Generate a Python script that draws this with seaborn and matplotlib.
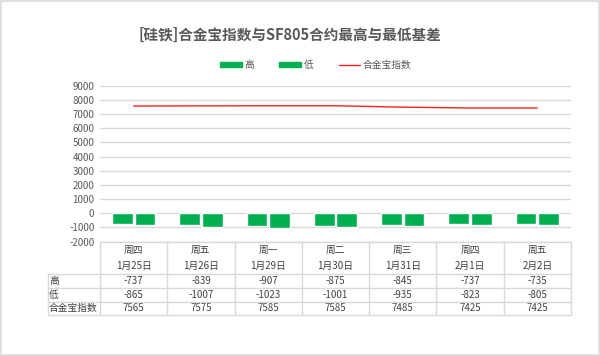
import numpy as np
import pandas as pd
import matplotlib
matplotlib.use("Agg")
import matplotlib.pyplot as plt
import seaborn as sns
from matplotlib.patches import Patch, Rectangle
from matplotlib.lines import Line2D
from matplotlib.transforms import blended_transform_factory

weekdays = ["周四", "周五", "周一", "周二", "周三", "周四", "周五"]
dates = ["1月25日", "1月26日", "1月29日", "1月30日", "1月31日", "2月1日", "2月2日"]
high = [-737, -839, -907, -875, -845, -737, -735]
low = [-865, -1007, -1023, -1001, -935, -823, -805]
index_vals = [7565, 7575, 7585, 7585, 7485, 7425, 7425]
series_names = ["高", "低", "合金宝指数"]
title = "[硅铁]合金宝指数与SF805合约最高与最低基差"
yticks = list(range(-2000, 10000, 1000))

sns.set_theme(style="white")
plt.rcParams["font.family"] = ["Noto Sans CJK SC", "DejaVu Sans"]

W, H = 600, 356
fig = plt.figure(figsize=(W / 100, H / 100), dpi=100)
fig.patch.set_facecolor("white")

def fy(py):
    return 1 - py / H

def fx(px):
    return px / W

ax_left, ax_right, ax_top, ax_bot = 100, 571, 85.7, 241.5
ax = fig.add_axes([fx(ax_left), fy(ax_bot), fx(ax_right - ax_left), (ax_bot - ax_top) / H])

green = "#00B050"
df = pd.DataFrame({
    "cat": [f"{w}\n{d}" for w, d in zip(weekdays, dates)] * 2,
    "series": [series_names[0]] * 7 + [series_names[1]] * 7,
    "value": high + low,
})
sns.barplot(data=df, x="cat", y="value", hue="series", palette=[green, green],
            width=0.67, gap=0.08, ax=ax, legend=False, saturation=1)
sns.lineplot(x=np.arange(len(index_vals)), y=index_vals, color="#FF2020", linewidth=1.0, ax=ax)

ax.set_xlim(-0.5, len(dates) - 0.5)
ax.set_ylim(-2000, 9000)
ax.set_yticks(yticks)
ax.set_yticklabels([str(v) for v in yticks], fontsize=7, color="#595959")
ax.set_xticks([])
ax.set_xlabel("")
ax.set_ylabel("")
ax.tick_params(axis="y", length=0, pad=4)
for s in ax.spines.values():
    s.set_visible(False)
ax.grid(axis="y", color="#D9D9D9", linewidth=1.0)
ax.set_axisbelow(True)

# Title
fig.text(fx(290), fy(35), title, ha="center", va="center", fontsize=10.5,
         fontweight="bold", color="#595959")

# Legend
handles = [Patch(facecolor=green, edgecolor=green, label=series_names[0]),
           Patch(facecolor=green, edgecolor=green, label=series_names[1]),
           Line2D([0], [0], color="#FF2020", linewidth=1.0, label=series_names[2])]
leg = fig.legend(handles=handles, loc="center", bbox_to_anchor=(fx(316), fy(65)), ncol=3,
                 frameon=False, fontsize=7, handlelength=2.2, handleheight=0.5,
                 columnspacing=2.6, handletextpad=0.3)
for t in leg.get_texts():
    t.set_color("#595959")

# Data table
grid_c = "#D9D9D9"
txt_c = "#404040"
tr = blended_transform_factory(ax.transData, fig.transFigure)
n = len(dates)
xs_edges = np.arange(n + 1) - 0.5
top_y, hdr_y, r1, r2, r3 = 241.5, 274, 288, 301.5, 315

def hline(py, x0px, x1px):
    fig.add_artist(Line2D([fx(x0px), fx(x1px)], [fy(py), fy(py)], color=grid_c, linewidth=1.0))

hline(top_y, ax_left, ax_right)
for py in (hdr_y, r1, r2, r3):
    hline(py, 48, ax_right)
for xe in xs_edges:
    ax.add_line(Line2D([xe, xe], [fy(top_y), fy(r3)], transform=tr, color=grid_c,
                       linewidth=1.0, clip_on=False))
fig.add_artist(Line2D([fx(48), fx(48)], [fy(hdr_y), fy(r3)], color=grid_c, linewidth=1.0))

for i in range(n):
    ax.text(i, fy(250), weekdays[i], transform=tr, ha="center", va="center", fontsize=7, color=txt_c)
    ax.text(i, fy(266), dates[i], transform=tr, ha="center", va="center", fontsize=7, color=txt_c)
    ax.text(i, fy(281), str(high[i]), transform=tr, ha="center", va="center", fontsize=7, color=txt_c)
    ax.text(i, fy(294.5), str(low[i]), transform=tr, ha="center", va="center", fontsize=7, color=txt_c)
    ax.text(i, fy(308), str(index_vals[i]), transform=tr, ha="center", va="center", fontsize=7, color=txt_c)

for lab, py in zip(series_names, (281, 294.5, 308)):
    fig.text(fx(49), fy(py), lab, ha="left", va="center", fontsize=7, color=txt_c)

# Outer border
fig.add_artist(Rectangle((0.001, 0.002), 0.997, 0.995, transform=fig.transFigure,
                         fill=False, edgecolor="#D9D9D9", linewidth=1.2))

fig.savefig("out.png", dpi=100, facecolor="white")
